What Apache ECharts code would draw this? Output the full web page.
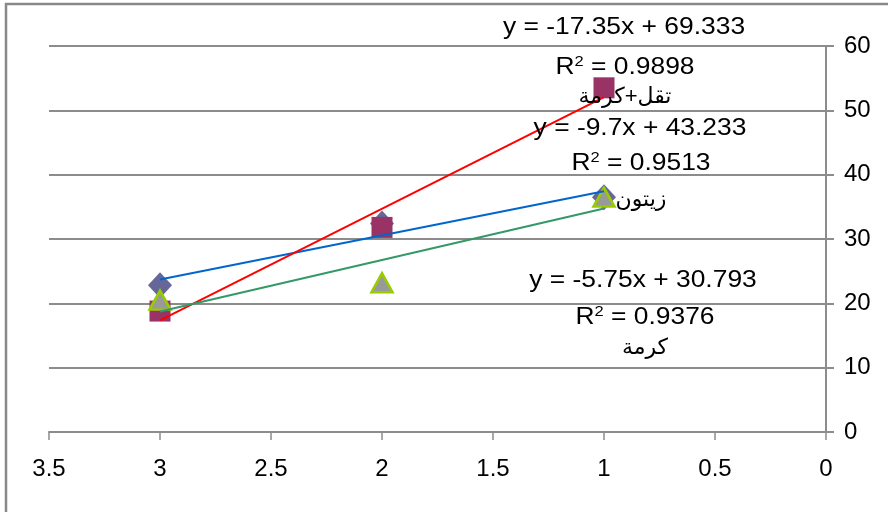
<!DOCTYPE html>
<html>
<head>
<meta charset="utf-8">
<script src="https://cdn.jsdelivr.net/npm/echarts@6/dist/echarts.min.js"></script>
<style>
  html, body { margin: 0; padding: 0; background: #fff; }
  #chart { width: 888px; height: 512px; }
</style>
</head>
<body>
<div id="chart"></div>
<script>
// Shared x positions of the three measurements
const xValues = [3, 2, 1];
// Series values (y at x = 3, 2, 1)
const zaytoun = [22.8, 32.4, 36.5];       // diamonds, blue trend
const thiqlKarma = [18.8, 31.8, 53.5];    // squares, red trend
const karma = [20.5, 23.2, 36.5];         // triangles, green trend
// Axis ticks
const xTicks = [0, 0.5, 1, 1.5, 2, 2.5, 3, 3.5];
const yTicks = [0, 10, 20, 30, 40, 50, 60];
// Trendline annotations
const eqLabels = ['y = -17.35x + 69.333', 'y = -9.7x + 43.233', 'y = -5.75x + 30.793'];
const r2Labels = ['0.9898', '0.9513', '0.9376'];
const nameLabels = ['تقل+كرمة', 'زيتون', 'كرمة'];

const FONT = '"Liberation Sans", Arial, "DejaVu Sans", sans-serif';
const GRID_GRAY = '#8C8C8C';

function pairs(ys) { return xValues.map((x, i) => [x, ys[i]]); }

// Least-squares linear fit, drawn across the data's x range
function trend(ys) {
  const n = xValues.length;
  const mx = xValues.reduce((a, b) => a + b, 0) / n;
  const my = ys.reduce((a, b) => a + b, 0) / n;
  let sxy = 0, sxx = 0;
  for (let i = 0; i < n; i++) {
    sxy += (xValues[i] - mx) * (ys[i] - my);
    sxx += (xValues[i] - mx) * (xValues[i] - mx);
  }
  const m = sxy / sxx, b = my - m * mx;
  const lo = Math.min(...xValues), hi = Math.max(...xValues);
  return [[hi, m * hi + b], [lo, m * lo + b]];
}

function textEl(x, y, text, size, extra) {
  return Object.assign({
    type: 'text', x: x, y: y, scaleX: 1.1, z: 100,
    style: {
      text: text, font: size + 'px ' + FONT, fill: '#000',
      align: 'center', verticalAlign: 'middle',
      textAlign: 'center', textVerticalAlign: 'middle'
    }
  }, extra || {});
}

function r2El(x, y, val) {
  return {
    type: 'text', x: x, y: y, scaleX: 1.1, z: 100,
    style: {
      text: '{r|R}{s|2}{r| = ' + val + '}',
      align: 'center', verticalAlign: 'middle',
      textAlign: 'center', textVerticalAlign: 'middle',
      rich: {
        r: { fontSize: 24, fontFamily: FONT, fill: '#000', color: '#000', lineHeight: 26 },
        s: { fontSize: 15, fontFamily: FONT, fill: '#000', color: '#000', verticalAlign: 'top', lineHeight: 14 }
      }
    }
  };
}

const annPos = [
  { eq: [624, 27], r2: [625, 67], nm: [625, 97] },
  { eq: [640, 128], r2: [641, 163], nm: [641, 200] },
  { eq: [643, 280], r2: [645, 317], nm: [645, 348] }
];

const graphics = [{
  type: 'rect', z: 0, silent: true,
  shape: { x: 6, y: 4, width: 900, height: 600 },
  style: { fill: 'none', stroke: '#888', lineWidth: 2.5 }
}];
annPos.forEach((p, i) => {
  graphics.push(textEl(p.eq[0], p.eq[1], eqLabels[i], 24));
  graphics.push(r2El(p.r2[0], p.r2[1], r2Labels[i]));
  graphics.push(textEl(p.nm[0], p.nm[1], nameLabels[i], 22, { scaleX: 1 }));
});

const chart = echarts.init(document.getElementById('chart'), null, { renderer: 'canvas' });
chart.setOption({
  animation: false,
  backgroundColor: '#fff',
  grid: { left: 49, right: 62, top: 46, bottom: 80, containLabel: false },
  xAxis: {
    type: 'value', inverse: true,
    min: xTicks[0], max: xTicks[xTicks.length - 1], interval: 0.5,
    axisLine: { show: true, onZero: false, lineStyle: { color: GRID_GRAY, width: 2 } },
    axisTick: { show: true, inside: false, length: 8, lineStyle: { color: GRID_GRAY, width: 1.5 } },
    splitLine: { show: false },
    axisLabel: { color: '#000', fontSize: 24, fontFamily: FONT, margin: 25 }
  },
  yAxis: {
    type: 'value', position: 'right',
    min: yTicks[0], max: yTicks[yTicks.length - 1], interval: 10,
    axisLine: { show: true, onZero: false, lineStyle: { color: GRID_GRAY, width: 2 } },
    axisTick: { show: true, inside: false, length: 8, lineStyle: { color: GRID_GRAY, width: 2 } },
    splitLine: { show: true, lineStyle: { color: GRID_GRAY, width: 2 } },
    axisLabel: { color: '#000', fontSize: 24, fontFamily: FONT, margin: 18 }
  },
  graphic: graphics,
  series: [
    {
      name: 'زيتون', type: 'scatter', data: pairs(zaytoun), z: 2,
      symbol: 'diamond', symbolSize: [24, 26],
      itemStyle: { color: '#666699', opacity: 1 }
    },
    {
      name: 'تقل+كرمة', type: 'scatter', data: pairs(thiqlKarma), z: 3,
      symbol: 'rect', symbolSize: 21,
      itemStyle: { color: '#993366', opacity: 1 }
    },
    {
      name: 'كرمة', type: 'scatter', data: pairs(karma), z: 4,
      symbol: 'triangle', symbolSize: [21, 19],
      itemStyle: { color: '#999999', borderColor: '#99CC00', borderWidth: 2.5, opacity: 1 }
    },
    {
      type: 'line', data: trend(zaytoun), z: 5, symbol: 'none', silent: true,
      lineStyle: { color: '#0066CC', width: 2 }
    },
    {
      type: 'line', data: trend(thiqlKarma), z: 5, symbol: 'none', silent: true,
      lineStyle: { color: '#FF0000', width: 2 }
    },
    {
      type: 'line', data: trend(karma), z: 5, symbol: 'none', silent: true,
      lineStyle: { color: '#339966', width: 2 }
    }
  ]
});
</script>
</body>
</html>
